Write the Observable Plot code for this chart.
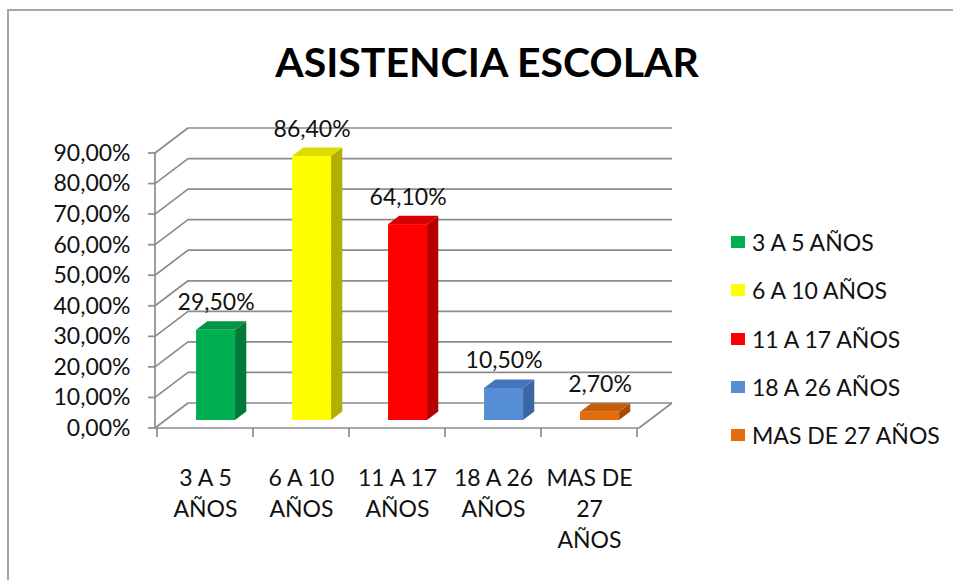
<!DOCTYPE html>
<html>
<head>
<meta charset="utf-8">
<script src="https://cdn.jsdelivr.net/npm/d3@7"></script>
<script src="https://cdn.jsdelivr.net/npm/@observablehq/plot@0.6"></script>
<style>
  body { margin: 0; background: #fff; font-family: Lato, sans-serif; }
  #wrap { position: relative; width: 953px; height: 580px; overflow: hidden; }
  #frame { position: absolute; left: 7px; top: 9px; right: -5px; bottom: -5px;
           border-left: 2px solid #a6a6a6; border-top: 2px solid #a6a6a6; }
  #title { position: absolute; left: 0; top: 37px; width: 974px; text-align: center;
           font: 700 41px Lato, sans-serif; color: #000; line-height: 50px; }
  #chart { position: absolute; left: 0; top: 100px; }
  #legend { position: absolute; left: 731px; top: 218px; }
  .row { height: 48.3px; display: flex; align-items: center; font: 23px Lato, sans-serif;
         color: #111; white-space: nowrap; }
  .sw { width: 14px; height: 12px; margin-right: 7px; }
</style>
</head>
<body>
<div id="wrap">
  <div id="frame"></div>
  <div id="title">ASISTENCIA ESCOLAR</div>
  <div id="chart"></div>
  <div id="legend"></div>
</div>
<script>
// ---- data ----
const categories = ["3 A 5 AÑOS", "6 A 10 AÑOS", "11 A 17 AÑOS", "18 A 26 AÑOS", "MAS DE 27 AÑOS"];
const values = [29.5, 86.4, 64.1, 10.5, 2.7];
const xTickLabels = ["3 A 5\nAÑOS", "6 A 10\nAÑOS", "11 A 17\nAÑOS", "18 A 26\nAÑOS", "MAS DE\n27\nAÑOS"];
const yTicks = [0, 10, 20, 30, 40, 50, 60, 70, 80, 90];
const yTickLabels = ["0,00%", "10,00%", "20,00%", "30,00%", "40,00%", "50,00%", "60,00%", "70,00%", "80,00%", "90,00%"];
const frontColors = ["#00b050", "#ffff00", "#ff0000", "#558ed5", "#e46c0a"];
const sideColors  = ["#00793a", "#b0b000", "#b50000", "#3a66a3", "#a34c05"];
const topColors   = ["#009646", "#dcdc00", "#d80000", "#4676ba", "#c65e08"];

const data = categories.map((c, i) => ({cat: c, value: values[i], i}));
const fmt = v => v.toFixed(2).replace(".", ",") + "%";

// ---- 3D styling constants (pixels) ----
const DX = 33, DY = -25;          // full depth offset of the back wall
const F1 = 0.32, F2 = 0.66;       // bar front / back depth fractions
const INSET = 28.5;               // bar inset inside band
const GRID = "#8c8c8c";

function frame3d(index, scales, vals, dim) {
  const {x, y} = scales;
  const x0 = dim.marginLeft, x1 = dim.width - dim.marginRight;
  const yb = y(0);
  const g = d3.create("svg:g").attr("fill", "none").attr("stroke", GRID)
    .attr("stroke-width", 1.7).attr("stroke-linejoin", "round");
  for (const t of yTicks) {
    const yy = y(t);
    g.append("path").attr("d", `M${x0},${yy}L${x0 + DX},${yy + DY}H${x1 + DX}`);
    g.append("path").attr("d", `M${x0 - 7},${yy}H${x0}`);
  }
  g.append("path").attr("d", `M${x0},${yb}V${y(yTicks[yTicks.length - 1])}`);
  g.append("path").attr("d", `M${x0},${yb}H${x1}L${x1 + DX},${yb + DY}`);
  const bw = x.bandwidth ? x.bandwidth() : (x1 - x0) / categories.length;
  categories.forEach(c => g.append("path").attr("d", `M${x(c)},${yb}v9`));
  g.append("path").attr("d", `M${x(categories[categories.length - 1]) + bw},${yb}v9`);
  return g.node();
}

function barFaces(index, scales, vals, dim) {
  const {x, y} = scales;
  const x0 = dim.marginLeft, x1 = dim.width - dim.marginRight;
  const bw = x.bandwidth ? x.bandwidth() : (x1 - x0) / categories.length;
  const g = d3.create("svg:g");
  const ax = DX * F1, ay = DY * F1, dd = DX * (F2 - F1), ddy = DY * (F2 - F1);
  data.forEach(d => {
    const xl = x(d.cat) + INSET + ax, xr = x(d.cat) + bw - INSET + ax;
    const yt = y(d.value) + ay, yb = y(0) + ay;
    g.append("path").attr("fill", sideColors[d.i])
      .attr("d", `M${xr},${yt}L${xr + dd},${yt + ddy}V${yb + ddy}L${xr},${yb}Z`);
    g.append("path").attr("fill", topColors[d.i])
      .attr("d", `M${xl},${yt}L${xl + dd},${yt + ddy}H${xr + dd}L${xr},${yt}Z`);
  });
  return g.node();
}

const chart = Plot.plot({
  width: 953, height: 480,
  marginLeft: 155, marginRight: 314, marginTop: 53, marginBottom: 152,
  x: {type: "band", domain: categories, padding: 0, label: null},
  y: {domain: [0, 90], label: null},
  color: {domain: categories, range: frontColors},
  style: {fontFamily: "Lato, sans-serif", background: "transparent", overflow: "visible"},
  marks: [
    frame3d,
    barFaces,
    Plot.barY(data, {x: "cat", y: "value", fill: "cat", insetLeft: INSET, insetRight: INSET,
                     dx: DX * F1, dy: DY * F1}),
    Plot.text(data, {x: "cat", y: "value", text: d => fmt(d.value), dx: DX * F1, dy: -28,
                     lineAnchor: "bottom", fontSize: 23, fill: "#111"}),
    Plot.axisY({ticks: yTicks, tickSize: 0, tickPadding: 25, fontSize: 23, fill: "#111",
                tickFormat: d => yTickLabels[yTicks.indexOf(d)]}),
    Plot.axisX({tickSize: 0, tickPadding: 35, fontSize: 23, fill: "#111", lineHeight: 1.35,
                tickFormat: d => xTickLabels[categories.indexOf(d)]})
  ]
});
document.getElementById("chart").appendChild(chart);

// legend
const legend = document.getElementById("legend");
categories.forEach((c, i) => {
  const row = document.createElement("div");
  row.className = "row";
  const sw = document.createElement("div");
  sw.className = "sw";
  sw.style.background = frontColors[i];
  const t = document.createElement("span");
  t.textContent = c;
  row.appendChild(sw); row.appendChild(t);
  legend.appendChild(row);
});
</script>
</body>
</html>
